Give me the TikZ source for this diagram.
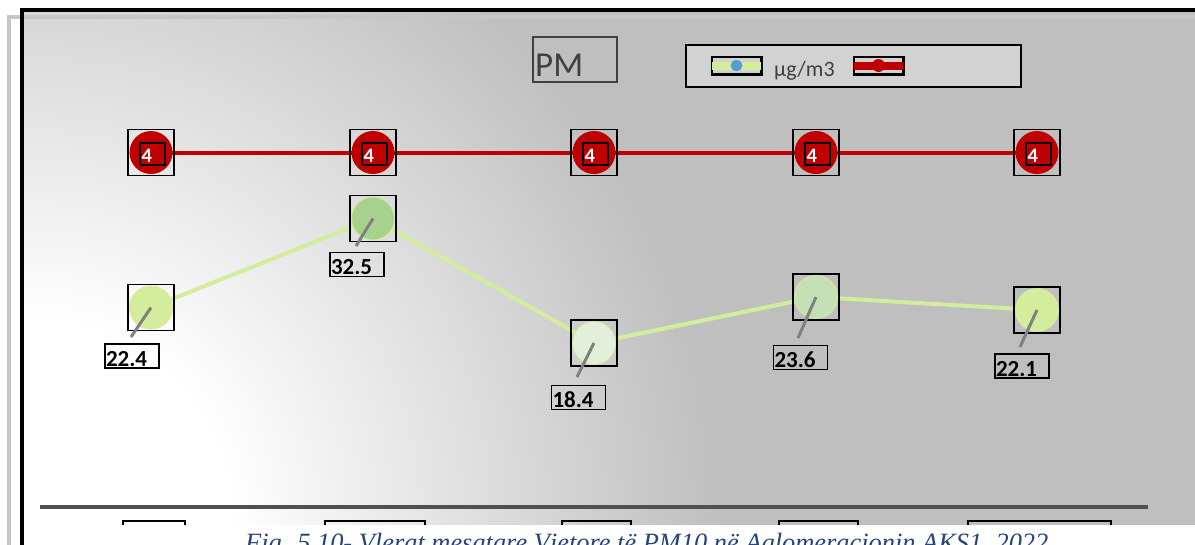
\documentclass[tikz,border=0pt]{standalone}
\usepackage{fontspec}
\newfontfamily\calfont{Carlito}
\newfontfamily\capfont{Liberation Serif}
\definecolor{bggray}{RGB}{191,191,191}
\definecolor{darkred}{RGB}{192,0,0}
\definecolor{lgreen}{RGB}{212,237,156}
\definecolor{mgreen}{RGB}{169,209,142}
\definecolor{pgreen}{RGB}{226,239,218}
\definecolor{sgreen}{RGB}{197,224,180}
\definecolor{txtgray}{RGB}{64,64,64}
\definecolor{leadgray}{RGB}{128,128,128}
\definecolor{axisgray}{RGB}{80,80,80}
\definecolor{framegray}{RGB}{198,198,198}
\definecolor{legfill}{RGB}{210,210,210}
\definecolor{capblue}{RGB}{38,68,120}
\definecolor{dotblue}{RGB}{91,155,213}
\pgfdeclareradialshading{bgsh}{\pgfpoint{0pt}{0pt}}{color(0pt)=(white); color(200pt)=(white); color(690pt)=(bggray); color(750pt)=(bggray)}
\tikzset{
  sqbox/.style={draw=black, line width=1.5pt, minimum size=46pt, inner sep=0pt},
  rcirc/.style={circle, fill=darkred, minimum size=43pt, inner sep=0pt},
  gcirc/.style={circle, draw=lgreen, line width=0.8pt, minimum size=43pt, inner sep=0pt},
  redline/.style={darkred, line width=4pt},
  greenline/.style={lgreen, line width=4pt},
  leader/.style={leadgray, line width=3pt},
  innerbox/.style={draw=black, line width=1.5pt, fill=darkred, text=white,
    font=\calfont\bfseries\fontsize{20.5}{24}\selectfont, text width=22pt, align=left,
    inner xsep=1.5pt, inner ysep=0pt, minimum height=22pt, text height=19pt, text depth=3pt},
  lbl/.style={draw=black, line width=1.6pt, text=black,
    font=\calfont\bfseries\fontsize{23}{27}\selectfont, text width=52pt, align=left,
    inner xsep=1pt, inner ysep=0pt, minimum height=24pt, text height=22pt, text depth=2pt},
  catbox/.style={draw=black, line width=2pt, minimum height=10pt, inner sep=0pt, anchor=north west},
  legsym/.style={draw=black, line width=1.5pt, fill=legfill, minimum width=49pt, minimum height=17pt, inner sep=0pt}
}
\begin{document}
\begin{tikzpicture}[x=1pt,y=-1pt]
\useasboundingbox (0,0) rectangle (1195,544);
\begin{scope}
\clip (0,0) rectangle (1195,544);
\fill[white] (0,0) rectangle (1195,544);
% chart background
\fill[bggray] (24,12) rectangle (1195,525);
\begin{scope}
\clip (24,12) rectangle (1195,525);
\node[inner sep=0pt] (bg) at (30,520) {\pgfuseshading{bgsh}};
\end{scope}
% title box
\node[draw=txtgray, line width=1.5pt, minimum width=84pt, minimum height=45pt, inner sep=0pt] (pmbox) at (575,59.5) {};
\node[anchor=base west, inner sep=0pt, text=txtgray, font=\calfont\fontsize{35}{40}\selectfont] (pm) at (535,76) {PM};
% legend
\node[draw=black, line width=2pt, fill=legfill, minimum width=335pt, minimum height=42pt, inner sep=0pt] (legend) at (853.5,66) {};
\node[legsym] (lg) at (736.5,65.5) {};
\fill[lgreen] ([yshift=-4pt]lg.west) rectangle ([yshift=4pt]lg.east);
\draw[black, line width=1.5pt] (lg.north west) rectangle (lg.south east);
\fill[dotblue] (lg.center) ellipse (6pt and 5.5pt);
\node[anchor=base west, inner sep=0pt, text=txtgray, font=\calfont\fontsize{22}{26}\selectfont] (unit) at (774,76) {µg/m3};
\node[legsym] (lr) at (878.5,65.5) {};
\fill[darkred] ([yshift=-4pt]lr.west) rectangle ([yshift=4pt]lr.east);
\draw[black, line width=1.5pt] (lr.north west) rectangle (lr.south east);
\fill[darkred] (lr.center) circle (6.5pt);
% red series
\foreach \i/\x in {1/151,2/373,3/594,4/816,5/1037}{
  \coordinate (rp\i) at (\x,152.5);
}
\draw[redline] (rp1) -- (rp2) -- (rp3) -- (rp4) -- (rp5);
\foreach \i/\x in {1/151,2/373,3/594,4/816,5/1037}{
  \node[rcirc] (r\i) at (rp\i) {};
  \node[sqbox] (rs\i) at (rp\i) {};
  \node[innerbox] (rb\i) at (\x+1.5,154) {4};
}
% green series
\coordinate (gp1) at (151,307.5);
\coordinate (gp2) at (373,218.5);
\coordinate (gp3) at (594,343);
\coordinate (gp4) at (816,297);
\coordinate (gp5) at (1037,310);
\draw[greenline] (gp1) -- (gp2) -- (gp3) -- (gp4) -- (gp5);
\foreach \i/\c in {1/lgreen,2/mgreen,3/pgreen,4/sgreen,5/lgreen}{
  \node[gcirc, fill=\c] (g\i) at (gp\i) {};
  \node[sqbox] (gs\i) at (gp\i) {};
}
\coordinate (le1) at (131,337);
\coordinate (le2) at (356,246);
\coordinate (le3) at (577,377);
\coordinate (le4) at (798,338);
\coordinate (le5) at (1020,347);
\foreach \i in {1,...,5}{
  \draw[leader] (g\i.center) -- (le\i);
}
\node[lbl] (l1) at (132,356) {22.4};
\node[lbl] (l2) at (357,264.5) {32.5};
\node[lbl] (l3) at (578.5,397.5) {18.4};
\node[lbl] (l4) at (800.5,357.5) {23.6};
\node[lbl] (l5) at (1022,366) {22.1};
% axis
\coordinate (ax1) at (40,506.5);
\coordinate (ax2) at (1148,506.5);
\draw[axisgray, line width=4pt] (ax1) -- (ax2);
% category boxes (cut off)
\node[catbox, minimum width=62pt] (c1) at (122,520) {};
\node[catbox, minimum width=100pt] (c2) at (324,520) {};
\node[catbox, minimum width=69pt] (c3) at (561,520) {};
\node[catbox, minimum width=79pt] (c4) at (778,520) {};
\node[catbox, minimum width=143pt] (c5) at (967,520) {};
% caption band
\fill[white] (24,525) rectangle (1195,544);
\node[anchor=base west, inner sep=0pt, text=capblue, font=\capfont\itshape\fontsize{26.4}{30}\selectfont] (cap) at (245,551) {Fig. 5.10- Vlerat mesatare Vjetore të PM10 në Aglomeracionin AKS1, 2022};
% frame lines
\draw[framegray, line width=4pt] (9,546) -- (9,17) -- (1197,17);
\draw[black, line width=4pt] (22,546) -- (22,10) -- (1197,10);
\end{scope}
\end{tikzpicture}
\end{document}
